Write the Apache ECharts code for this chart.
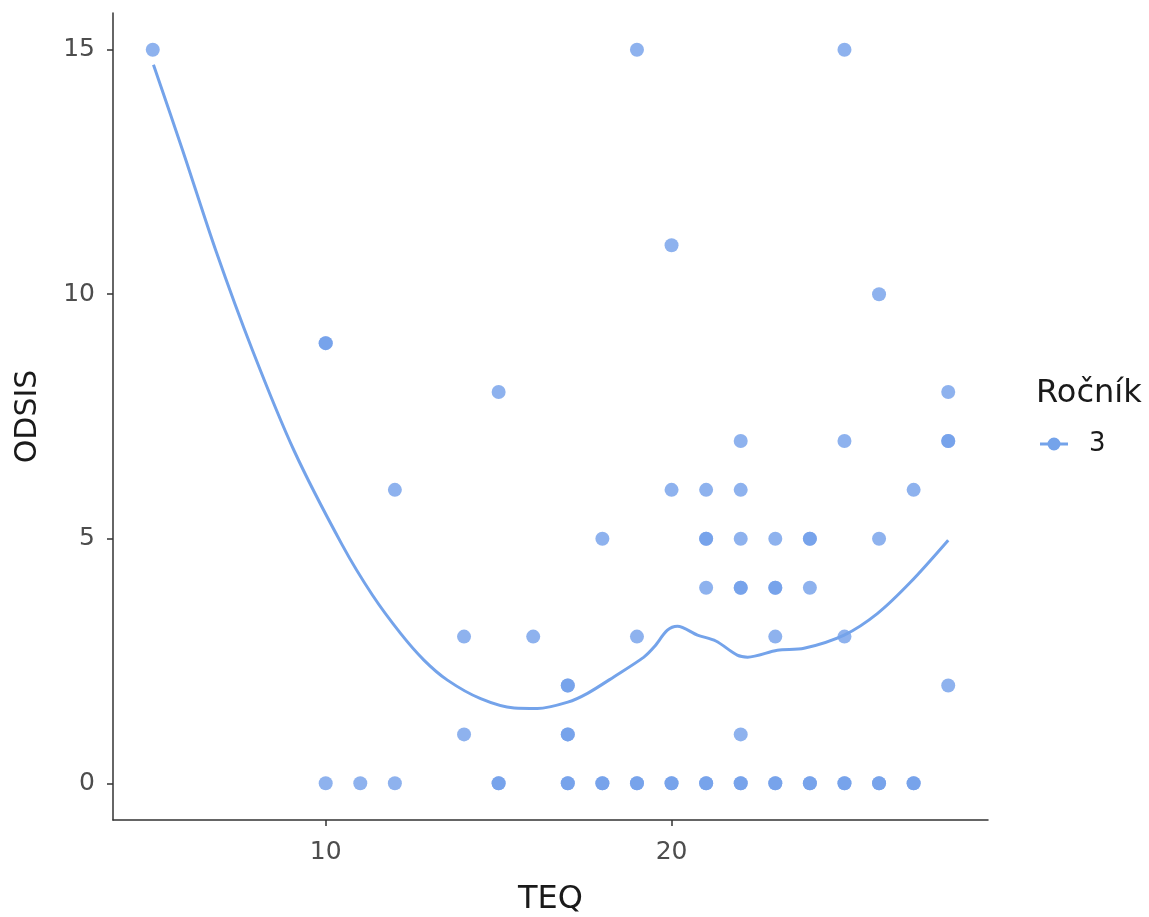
<!DOCTYPE html>
<html>
<head>
<meta charset="utf-8">
<script src="https://cdn.jsdelivr.net/npm/echarts@6/dist/echarts.min.js"></script>
<style>html,body{margin:0;padding:0;background:#fff;}#c{width:1149px;height:917px;}</style>
</head>
<body>
<div id="c"></div>
<script>
// Observations (TEQ, ODSIS); overlapping points are repeated
const teq   = [5, 10,10,10, 11, 12,12, 14,14, 15,15,15, 16, 17,17,17,17,17,17, 18,18,18, 19,19,19,19, 20,20,20,20, 21,21,21,21,21,21, 22,22,22,22,22,22,22,22, 23,23,23,23,23,23, 24,24,24,24,24, 25,25,25,25,25, 26,26,26,26, 27,27,27, 28,28,28,28];
const odsis = [15, 9,9,0, 0, 6,0, 3,1, 8,0,0, 3, 2,2,1,1,0,0, 5,0,0, 15,3,0,0, 11,6,0,0, 6,5,5,4,0,0, 7,6,5,4,4,1,0,0, 5,4,4,3,0,0, 5,5,4,0,0, 15,7,3,0,0, 10,5,0,0, 6,0,0, 8,7,7,2];
// Smoothed (loess) curve
const smoothX = [5.02, 5.86, 6.82, 7.88, 9.08, 10.48, 11.35, 12.17, 12.84, 13.52, 14.48, 15.45, 16.12, 17.0, 17.57, 18.34, 19.2, 19.5, 19.88, 20.17, 20.75, 21.28, 21.9, 22.2, 23.06, 23.83, 24.99, 25.95, 26.92, 28.0];
const smoothY = [14.69, 12.95, 10.90, 8.86, 6.81, 4.87, 3.85, 3.06, 2.52, 2.11, 1.73, 1.54, 1.53, 1.66, 1.84, 2.18, 2.58, 2.79, 3.13, 3.21, 3.03, 2.91, 2.62, 2.58, 2.72, 2.76, 3.03, 3.47, 4.12, 4.97];
const xTicks = [10, 20];
const yTicks = [0, 5, 10, 15];
const groupName = '3';

const pts = teq.map((x, i) => [x, odsis[i]]);
const curve = smoothX.map((x, i) => [x, smoothY[i]]);

const chart = echarts.init(document.getElementById('c'));
const axisCol = '#333333';
const icon = 'path://M0,5.5 L28,5.5 L28,8.5 L0,8.5 Z M7.5,7 A6.5,6.5 0 1,1 20.5,7 A6.5,6.5 0 1,1 7.5,7 Z';
chart.setOption({
  animation: false,
  backgroundColor: '#ffffff',
  grid: { left: 113, right: 161, top: 13, bottom: 97, containLabel: false, outerBoundsMode: 'none' },
  title: [{
    text: 'Ročník', left: 1031, top: 373,
    textStyle: { fontFamily: 'DejaVu Sans', fontSize: 32, fontWeight: 'normal', color: '#1a1a1a' }
  }],
  legend: {
    left: 1035, top: 426, orient: 'vertical',
    itemWidth: 28, itemHeight: 14,
    data: [{ name: groupName, icon: icon, itemStyle: { color: '#74a3ea', opacity: 1 } }],
    textStyle: { fontFamily: 'DejaVu Sans', fontSize: 26, color: '#1a1a1a', padding: [0, 0, 0, 16] }
  },
  xAxis: {
    type: 'value', min: 3.85, max: 29.15,
    name: 'TEQ', nameLocation: 'middle', nameGap: 64,
    nameTextStyle: { fontFamily: 'DejaVu Sans', fontSize: 32, color: '#1a1a1a' },
    axisLine: { onZero: false, lineStyle: { color: axisCol, width: 1.5 } },
    axisTick: { show: true, length: 6, lineStyle: { color: axisCol, width: 1.5 }, customValues: xTicks },
    axisLabel: { customValues: xTicks, fontFamily: 'DejaVu Sans', fontSize: 25, color: '#4d4d4d', margin: 20 },
    splitLine: { show: false }
  },
  yAxis: {
    type: 'value', min: -0.75, max: 15.75,
    name: 'ODSIS', nameLocation: 'middle', nameGap: 70, nameRotate: 90,
    nameTextStyle: { fontFamily: 'DejaVu Sans', fontSize: 30, color: '#1a1a1a' },
    axisLine: { onZero: false, lineStyle: { color: axisCol, width: 1.5 } },
    axisTick: { show: true, length: 6, lineStyle: { color: axisCol, width: 1.5 }, customValues: yTicks },
    axisLabel: { customValues: yTicks, fontFamily: 'DejaVu Sans', fontSize: 25, color: '#4d4d4d', margin: 18 },
    splitLine: { show: false }
  },
  series: [
    {
      name: groupName, type: 'scatter', data: pts, symbolSize: 14,
      itemStyle: { color: '#729fea', opacity: 0.8 }, z: 2
    },
    {
      name: groupName, type: 'line', data: curve, smooth: 0.3,
      showSymbol: false, symbol: 'none',
      lineStyle: { color: '#74a3ea', width: 3 }, z: 3
    }
  ]
});
</script>
</body>
</html>
